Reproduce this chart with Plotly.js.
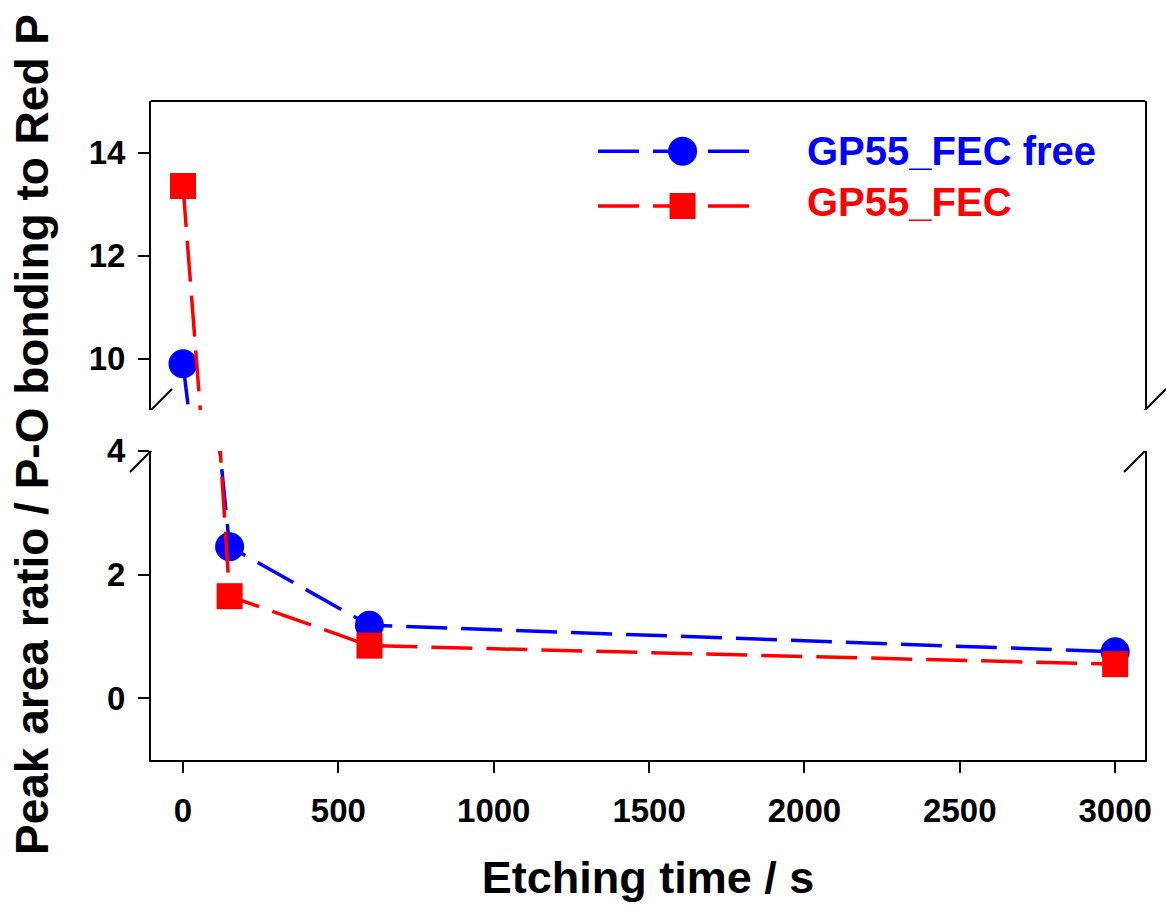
<!DOCTYPE html>
<html>
<head>
<meta charset="utf-8">
<script src="https://cdn.plot.ly/plotly-3.0.1.min.js"></script>
<style>html,body{margin:0;padding:0;background:#fff;}#chart{width:1166px;height:910px;}</style>
</head>
<body>
<div id="chart"></div>
<script>
// Data
const etchingTime = [0, 150, 600, 3000];
const gp55FecFree = [9.9, 2.45, 1.18, 0.75];
const gp55Fec = [13.35, 1.65, 0.85, 0.55];
const seriesNames = ['GP55_FEC free', 'GP55_FEC'];
const xTickVals = [0, 500, 1000, 1500, 2000, 2500, 3000];
const lowerTickVals = [0, 2, 4];
const upperTickVals = [10, 12, 14];

const BLUE = '#0000ff', RED = '#ff0000';
const FONT = 'Liberation Sans, Arial, Helvetica, sans-serif';
const DASH = '41px,14px';

function series(y, color, symbol, size, yaxis) {
  return {
    x: etchingTime, y: y, type: 'scatter', mode: 'lines+markers',
    yaxis: yaxis, xaxis: 'x', showlegend: false, cliponaxis: true,
    line: {color: color, width: 3.5, dash: DASH},
    marker: {color: color, symbol: symbol, size: size, line: {width: 0}}
  };
}

const traces = [
  series(gp55FecFree, BLUE, 'circle', 29, 'y'),
  series(gp55Fec, RED, 'square', 26, 'y'),
  series(gp55FecFree, BLUE, 'circle', 29, 'y2'),
  series(gp55Fec, RED, 'square', 26, 'y2')
];

const tickFont = {family: FONT, size: 33, color: '#000', weight: 700};
const axisCommon = {
  showline: true, linecolor: '#000', linewidth: 2,
  ticks: 'outside', ticklen: 11, tickwidth: 2, tickcolor: '#000',
  showgrid: false, zeroline: false, tickfont: tickFont
};

// break marks (slashes) on both sides of the broken y axis
function slash(xa, yref, ya) {
  return {type: 'line', xref: 'paper', xsizemode: 'pixel', xanchor: xa,
    x0: -21, x1: 21, yref: yref, ysizemode: 'pixel', yanchor: ya,
    y0: -21, y1: 21, line: {color: '#000', width: 2}};
}

const shapes = [
  // top border of the frame
  {type: 'line', xref: 'paper', yref: 'paper', x0: 0, x1: 1, y0: 1, y1: 1,
   line: {color: '#000', width: 2}},
  slash(0, 'y', 4), slash(0, 'y2', 9), slash(1, 'y', 4), slash(1, 'y2', 9),
  // legend samples
  {type: 'line', xref: 'paper', yref: 'paper', x0: 0.4497, x1: 0.6026, y0: 0.9236, y1: 0.9236,
   line: {color: BLUE, width: 3.5, dash: DASH}},
  {type: 'circle', xref: 'paper', yref: 'paper', xsizemode: 'pixel', ysizemode: 'pixel',
   xanchor: 0.5348, yanchor: 0.9236, x0: -14.5, x1: 14.5, y0: -14.5, y1: 14.5,
   fillcolor: BLUE, line: {width: 0}},
  {type: 'line', xref: 'paper', yref: 'paper', x0: 0.4497, x1: 0.6026, y0: 0.8407, y1: 0.8407,
   line: {color: RED, width: 3.5, dash: DASH}},
  {type: 'rect', xref: 'paper', yref: 'paper', xsizemode: 'pixel', ysizemode: 'pixel',
   xanchor: 0.5348, yanchor: 0.8407, x0: -13, x1: 13, y0: -13, y1: 13,
   fillcolor: RED, line: {width: 0}}
];

const annotations = [
  {text: seriesNames[0], xref: 'paper', yref: 'paper', x: 0.658, y: 0.9236,
   xanchor: 'left', yanchor: 'middle', showarrow: false,
   font: {family: FONT, size: 40, color: BLUE, weight: 700}},
  {text: seriesNames[1], xref: 'paper', yref: 'paper', x: 0.658, y: 0.8467,
   xanchor: 'left', yanchor: 'middle', showarrow: false,
   font: {family: FONT, size: 40, color: RED, weight: 700}},
  {text: 'Peak area ratio / P-O bonding to Red P', xref: 'paper', yref: 'paper',
   x: -0.1197, y: 0.4932, xanchor: 'center', yanchor: 'middle', textangle: -90,
   showarrow: false, font: {family: FONT, size: 46, color: '#000', weight: 700}}
];

const layout = {
  width: 1166, height: 910,
  margin: {l: 151, r: 21, t: 101, b: 150, pad: 0},
  paper_bgcolor: '#fff', plot_bgcolor: '#fff',
  showlegend: false,
  xaxis: Object.assign({}, axisCommon, {
    range: [-103, 3096], tickmode: 'array', tickvals: xTickVals,
    anchor: 'y', mirror: false, ticklabelstandoff: 9,
    title: {text: 'Etching time / s', standoff: 34,
      font: {family: FONT, size: 45, color: '#000', weight: 700}}
  }),
  yaxis: Object.assign({}, axisCommon, {
    domain: [0, 0.469], range: [-1, 4], tickmode: 'array', tickvals: lowerTickVals,
    anchor: 'x', mirror: true, ticklabelstandoff: 6
  }),
  yaxis2: Object.assign({}, axisCommon, {
    domain: [0.531, 1], range: [9, 15], tickmode: 'array', tickvals: upperTickVals,
    anchor: 'x', mirror: true, ticklabelstandoff: 6
  }),
  shapes: shapes,
  annotations: annotations
};

Plotly.newPlot('chart', traces, layout, {displayModeBar: false, staticPlot: true});
</script>
</body>
</html>
